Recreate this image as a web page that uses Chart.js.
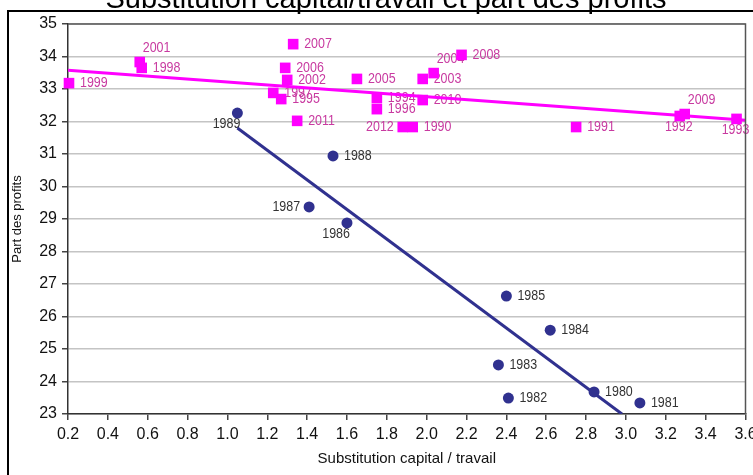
<!DOCTYPE html>
<html>
<head>
<meta charset="utf-8">
<script src="https://cdn.jsdelivr.net/npm/chart.js@4.4.1/dist/chart.umd.min.js"></script>
<style>
  html, body { margin: 0; padding: 0; background: #fff; overflow: hidden; }
  #wrap { position: relative; width: 753px; height: 475px; }
</style>
</head>
<body>
<div id="wrap"><canvas id="chart" width="753" height="475"></canvas></div>
<script>
// 1980s : circles
const years80 = [1980, 1981, 1982, 1983, 1984, 1985, 1986, 1987, 1988, 1989];
const capital80 = [2.84, 3.07, 2.41, 2.36, 2.62, 2.40, 1.60, 1.41, 1.53, 1.05];
const profits80 = [23.68, 23.34, 23.49, 24.51, 25.58, 26.63, 28.88, 29.37, 30.94, 32.26];
const labelPos80 = ['r', 'r', 'r', 'r', 'r', 'r', 'bl', 'l', 'r', 'bl'];

// 1990-2012 : squares
const years90 = [1990, 1991, 1992, 1993, 1994, 1995, 1996, 1997, 1998, 1999, 2001, 2002, 2003, 2004, 2005, 2006, 2007, 2008, 2009, 2010, 2011, 2012];
const capital90 = [1.93, 2.75, 3.27, 3.555, 1.75, 1.27, 1.75, 1.23, 0.57, 0.205, 0.56, 1.30, 1.98, 2.035, 1.65, 1.29, 1.33, 2.175, 3.295, 1.98, 1.35, 1.88];
const profits90 = [31.83, 31.83, 32.17, 32.08, 32.72, 32.69, 32.38, 32.88, 33.65, 33.18, 33.83, 33.28, 33.31, 33.49, 33.31, 33.65, 34.38, 34.05, 32.23, 32.66, 32.02, 31.83];
const labelPos90 = ['r', 'r', 'b', 'b', 'r', 'r', 'r', 'r', 'r', 'r', 'ur', 'r', 'r', 'ur', 'r', 'r', 'r', 'r', 'ur', 'r', 'r', 'l'];

// trend lines (end points)
const trendX80 = [1.05, 2.98];
const trendY80 = [31.8, 23.0];
const trendX90 = [0.2, 3.6];
const trendY90 = [33.58, 32.04];

const xTitle = 'Substitution capital / travail';
const yTitle = 'Part des profits';
const chartTitle = 'Substitution capital/travail et part des profits';

const BLUE = '#30318f';
const MAGENTA = '#ff00ff';
const SANS = '"Liberation Sans", Arial, sans-serif';

function toPoints(xs, ys) {
  return xs.map((v, i) => ({ x: v, y: ys[i] }));
}

const pointLabels = {
  id: 'pointLabels',
  beforeDatasetsDraw(chart) {
    const ctx = chart.ctx;
    const groups = [
      { meta: chart.getDatasetMeta(0), years: years80, pos: labelPos80, color: '#333333' },
      { meta: chart.getDatasetMeta(1), years: years90, pos: labelPos90, color: '#c83aa0' }
    ];
    const squeeze = 0.83; // labels are a narrow font in the original
    ctx.save();
    ctx.font = '15px ' + SANS;
    ctx.textBaseline = 'middle';
    groups.forEach(g => {
      ctx.fillStyle = g.color;
      g.meta.data.forEach((pt, i) => {
        let dx = 11, dy = 0, align = 'left';
        switch (g.pos[i]) {
          case 'l': dx = -9; align = 'right'; break;
          case 'ur': dx = 3; dy = -14; break;
          case 'bl': dx = 3; dy = 11; align = 'right'; break;
          case 'b': dx = -1; dy = 11; align = 'center'; break;
        }
        ctx.save();
        ctx.translate(pt.x + dx, pt.y + dy);
        ctx.scale(squeeze, 1);
        ctx.textAlign = align;
        ctx.fillText(String(g.years[i]), 0, 0);
        ctx.restore();
      });
    });
    ctx.restore();
  },
  afterDraw(chart) {
    const ctx = chart.ctx;
    const a = chart.chartArea;
    ctx.save();
    // plot box top / right
    ctx.strokeStyle = '#555555';
    ctx.lineWidth = 1.5;
    ctx.beginPath();
    ctx.moveTo(a.left, a.top);
    ctx.lineTo(a.right, a.top);
    ctx.lineTo(a.right, a.bottom);
    ctx.stroke();
    // outer frame
    ctx.strokeStyle = '#000';
    ctx.lineWidth = 2;
    ctx.strokeRect(8, 11, 800, 500);
    // title, cut by top of the picture
    ctx.fillStyle = '#000';
    ctx.font = '29px ' + SANS;
    ctx.textAlign = 'center';
    ctx.textBaseline = 'alphabetic';
    ctx.fillText(chartTitle, 386, 8);
    ctx.restore();
  }
};

new Chart(document.getElementById('chart').getContext('2d'), {
  type: 'scatter',
  data: {
    datasets: [
      {
        label: '1980-1989',
        data: toPoints(capital80, profits80),
        pointStyle: 'circle',
        pointRadius: 5.5,
        backgroundColor: BLUE,
        borderColor: BLUE,
        borderWidth: 0,
        clip: false
      },
      {
        label: '1990-2012',
        data: toPoints(capital90, profits90),
        pointStyle: 'rect',
        pointRadius: 7.5,
        backgroundColor: MAGENTA,
        borderColor: MAGENTA,
        borderWidth: 0,
        clip: false
      },
      {
        label: 'tendance 80',
        data: toPoints(trendX80, trendY80),
        showLine: true,
        pointRadius: 0,
        borderColor: BLUE,
        borderWidth: 3
      },
      {
        label: 'tendance 90',
        data: toPoints(trendX90, trendY90),
        showLine: true,
        pointRadius: 0,
        borderColor: MAGENTA,
        borderWidth: 3
      }
    ]
  },
  options: {
    responsive: false,
    animation: false,
    devicePixelRatio: 1,
    layout: { padding: { top: 24, right: 7, left: 10, bottom: 0 } },
    plugins: {
      legend: { display: false },
      tooltip: { enabled: false },
      title: { display: false }
    },
    scales: {
      x: {
        type: 'linear',
        min: 0.2,
        max: 3.6,
        afterFit(scale) { scale.height = 61; scale.paddingLeft = 0; scale.paddingRight = 0; },
        ticks: {
          stepSize: 0.2,
          padding: 5,
          color: '#111',
          font: { size: 16, family: SANS },
          callback: v => Number(v).toFixed(1),
          maxRotation: 0,
          autoSkip: false
        },
        grid: { drawOnChartArea: false, tickColor: '#444', tickLength: 6, lineWidth: 1.5 },
        border: { color: '#333', width: 1.5 },
        title: {
          display: true,
          text: xTitle,
          color: '#111',
          font: { size: 15, family: SANS },
          padding: { top: 0, bottom: 7 }
        }
      },
      y: {
        type: 'linear',
        min: 23,
        max: 35,
        afterFit(scale) { scale.width = 58; scale.paddingTop = 0; scale.paddingBottom = 0; },
        ticks: {
          stepSize: 1,
          padding: 5,
          color: '#111',
          font: { size: 16, family: SANS }
        },
        grid: { color: '#c4c4c4', lineWidth: 1.5, tickColor: '#444', tickLength: 6 },
        border: { color: '#333', width: 1.5 },
        title: {
          display: true,
          text: yTitle,
          color: '#111',
          font: { size: 13, family: SANS },
          padding: 0
        }
      }
    }
  },
  plugins: [pointLabels]
});
</script>
</body>
</html>
